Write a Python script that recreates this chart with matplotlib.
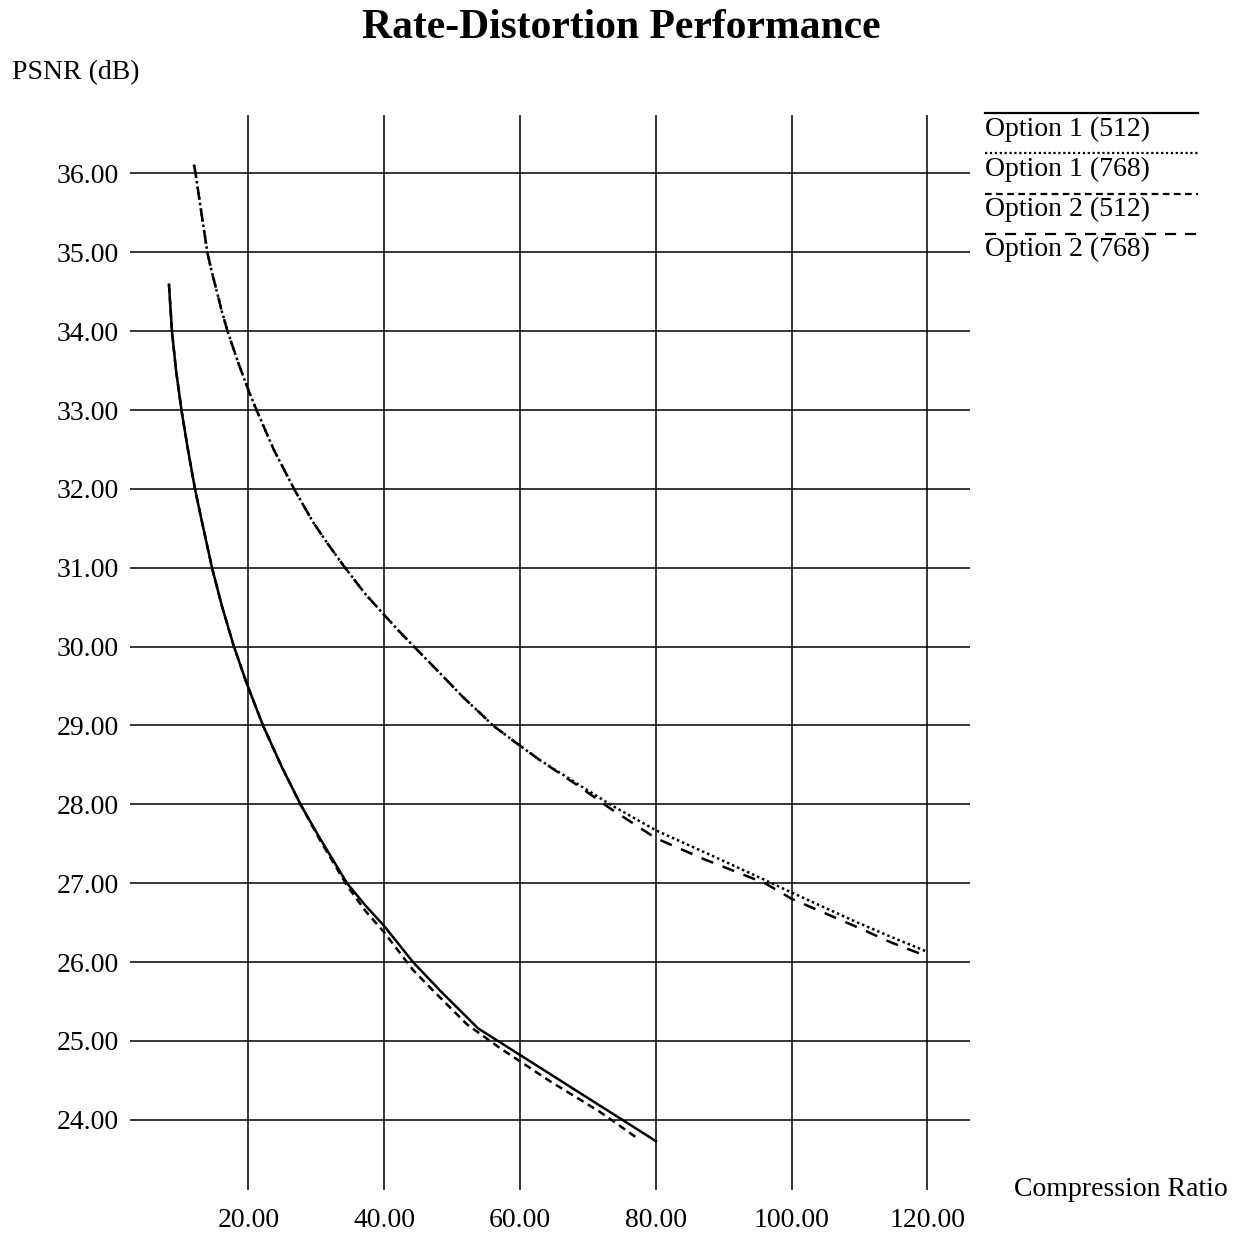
import matplotlib
matplotlib.use("Agg")
import matplotlib.pyplot as plt
from matplotlib.lines import Line2D

plt.rcParams['font.family'] = ['Liberation Serif', 'DejaVu Serif']

# Compression ratio / PSNR pairs for each configuration
opt1_512_cr = [8.29, 8.73, 9.32, 10.13, 11.02, 12.12, 13.08, 14.63, 16.10, 17.86, 19.71, 22.14, 24.93,
               27.66, 30.38, 34.51, 37.30, 39.96, 44.23, 48.20, 53.80, 80.0]
opt1_512_psnr = [34.59, 34.00, 33.51, 33.00, 32.53, 32.00, 31.61, 31.00, 30.51, 30.00, 29.54, 29.00, 28.47,
                 28.00, 27.59, 27.00, 26.71, 26.46, 26.00, 25.64, 25.16, 23.73]

opt1_768_cr = [11.97, 12.22, 12.93, 13.96, 14.55, 16.02, 16.91, 18.53, 20.00, 21.18, 23.76, 26.77, 29.57,
               31.71, 34.14, 37.08, 39.59, 42.02, 44.37, 48.13, 51.59, 53.95, 56.01, 59.25, 62.93, 68.82,
               73.24, 80.01, 87.23, 96.07, 100.04, 109.47, 114.62, 120.0]
opt1_768_psnr = [36.11, 35.99, 35.58, 34.99, 34.77, 34.27, 34.00, 33.59, 33.25, 33.00, 32.49, 31.99, 31.57,
                 31.30, 31.01, 30.68, 30.44, 30.21, 30.00, 29.67, 29.36, 29.17, 29.00, 28.79, 28.56, 28.24,
                 28.00, 27.67, 27.39, 27.04, 26.88, 26.51, 26.32, 26.13]

opt2_512_cr = [8.29, 8.73, 9.32, 10.13, 11.02, 12.12, 13.08, 14.63, 16.10, 17.86, 19.71, 22.14, 24.93,
               27.66, 30.38, 34.51, 37.30, 39.96, 44.23, 47.17, 52.18, 57.04, 64.40, 71.77, 77.22]
opt2_512_psnr = [34.59, 34.00, 33.51, 33.00, 32.53, 32.00, 31.61, 31.00, 30.51, 30.00, 29.54, 29.00, 28.47,
                 28.00, 27.57, 26.97, 26.64, 26.38, 25.90, 25.64, 25.21, 24.91, 24.49, 24.10, 23.77]

opt2_768_cr = [11.97, 12.22, 12.93, 13.96, 14.55, 16.02, 16.91, 18.53, 20.00, 21.18, 23.76, 26.77, 29.57,
               31.71, 34.14, 37.08, 39.59, 42.02, 44.37, 48.13, 51.59, 53.95, 56.01, 59.25, 62.93, 68.82,
               73.24, 80.01, 87.23, 96.07, 100.04, 109.47, 114.62, 120.0]
opt2_768_psnr = [36.11, 35.99, 35.58, 34.99, 34.77, 34.27, 34.00, 33.59, 33.25, 33.00, 32.49, 31.99, 31.57,
                 31.30, 31.01, 30.68, 30.44, 30.21, 30.00, 29.67, 29.36, 29.17, 29.00, 28.79, 28.56, 28.22,
                 27.95, 27.57, 27.30, 27.00, 26.80, 26.45, 26.25, 26.07]

x_ticks = [20, 40, 60, 80, 100, 120]
y_ticks = [24, 25, 26, 27, 28, 29, 30, 31, 32, 33, 34, 35, 36]

series = [
    ("Option 1 (512)", opt1_512_cr, opt1_512_psnr, "-"),
    ("Option 1 (768)", opt1_768_cr, opt1_768_psnr, (0, (1, 1.2))),
    ("Option 2 (512)", opt2_512_cr, opt2_512_psnr, (0, (3, 2))),
    ("Option 2 (768)", opt2_768_cr, opt2_768_psnr, (0, (5, 4))),
]

fig = plt.figure(figsize=(12.38, 12.37), dpi=100)
ax = fig.add_axes([0.1050, 0.0380, 0.6785, 0.8690])

for name, xs, ys, ls in series:
    ax.plot(xs, ys, color="black", linestyle=ls, linewidth=1.8)

ax.set_xlim(2.55, 126.26)
ax.set_ylim(23.11, 36.74)
ax.set_xticks(x_ticks)
ax.set_yticks(y_ticks)
ax.set_xticklabels([f"{v:.2f}" for v in x_ticks], fontsize=20)
ax.set_yticklabels([f"{v:.2f}" for v in y_ticks], fontsize=20)
ax.tick_params(axis="x", length=0, pad=13)
ax.tick_params(axis="y", length=0, pad=8)
ax.grid(True, color="black", linewidth=1.1)
for s in ax.spines.values():
    s.set_visible(False)

fig.text(0.502, 0.977, "Rate-Distortion Performance", ha="center", va="center",
         fontsize=30, fontweight="bold")
fig.text(0.0097, 0.941, "PSNR (dB)", ha="left", va="center", fontsize=20)
fig.text(0.8190, 0.038, "Compression Ratio", ha="left", va="center", fontsize=20)

# legend: sample line drawn above each label
leg_line_y = [0.9086, 0.8763, 0.8432, 0.8108]
leg_text_y = [0.8957, 0.8634, 0.8310, 0.7987]
for (name, xs, ys, ls), ly, ty in zip(series, leg_line_y, leg_text_y):
    fig.add_artist(Line2D([0.7956, 0.9677], [ly, ly], transform=fig.transFigure,
                          color="black", linestyle=ls, linewidth=1.6))
    fig.text(0.7956, ty, name, ha="left", va="center", fontsize=20)

fig.savefig("out.png", dpi=100, facecolor="white")
